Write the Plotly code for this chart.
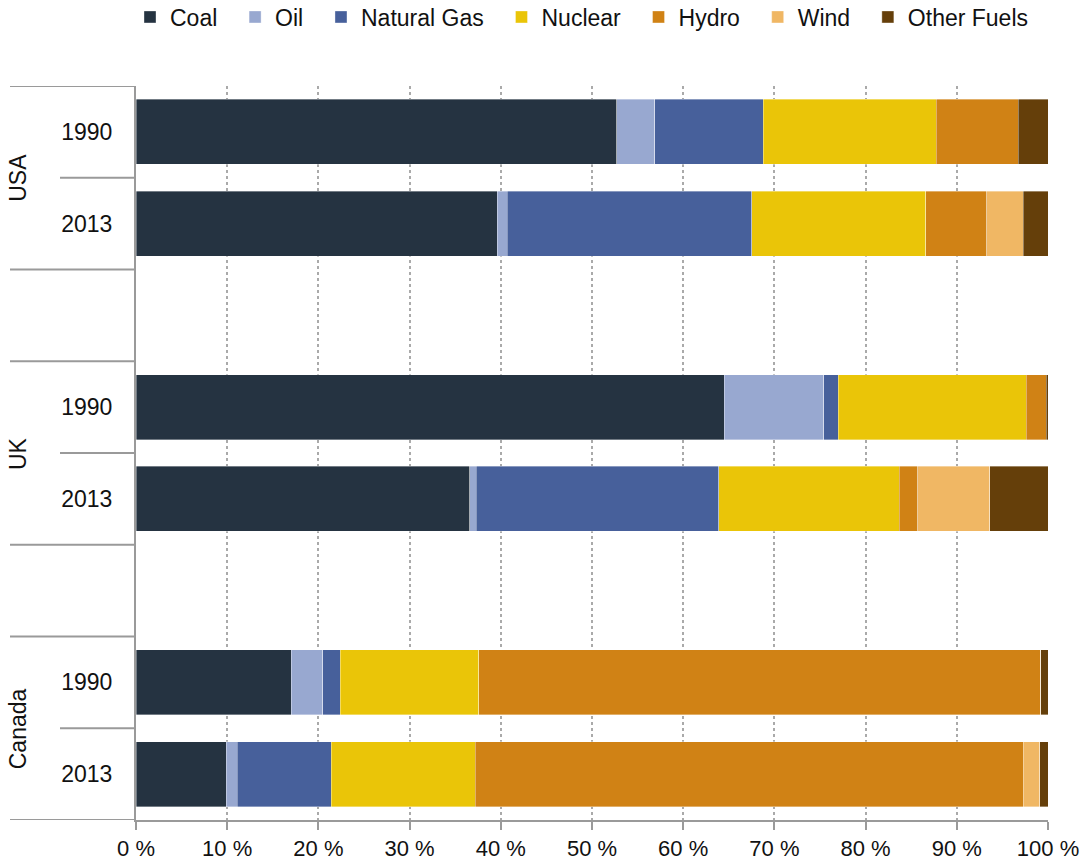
import plotly.graph_objects as go

countries = ["USA", "UK", "Canada"]
years = ["1990", "2013"]
fuels = ["Coal", "Oil", "Natural Gas", "Nuclear", "Hydro", "Wind", "Other Fuels"]
colors = ["#253341", "#98a8d0", "#47609b", "#eac508", "#d08215", "#f0b764", "#653f0a"]
x_ticks = list(range(0, 101, 10))
x_tick_labels = [f"{v} %" for v in x_ticks]

# shares in % per row: USA 1990, USA 2013, UK 1990, UK 2013, Canada 1990, Canada 2013
coal = [52.7, 39.6, 64.5, 36.6, 17.0, 9.9]
oil = [4.2, 1.1, 10.9, 0.7, 3.5, 1.2]
natural_gas = [11.85, 26.8, 1.6, 26.6, 1.9, 10.3]
nuclear = [19.0, 19.1, 20.6, 19.8, 15.2, 15.8]
hydro = [9.0, 6.7, 2.2, 2.0, 61.6, 60.1]
wind = [0.0, 4.0, 0.0, 7.9, 0.0, 1.8]
other_fuels = [3.25, 2.7, 0.2, 6.4, 0.8, 0.9]
series = [coal, oil, natural_gas, nuclear, hydro, wind, other_fuels]

# slot positions: each country takes two rows, with an empty row between countries
pos = []
for ci in range(len(countries)):
    for yi in range(len(years)):
        pos.append(ci * 3 + yi)
last_slot = max(pos)

NBSP = "\u00a0"
fig = go.Figure()
for name, col, vals in zip(fuels, colors, series):
    fig.add_trace(go.Bar(
        y=pos, x=vals, name=name + NBSP * 2, orientation="h",
        marker=dict(color=col, line=dict(color="rgba(255,255,255,0.45)", width=0.8)),
        width=0.71,
    ))

FONT = "Liberation Sans, Arial, sans-serif"
GRAY = "#9a9a9a"

shapes = []
left_long = (10 - 136) / 912
left_short = (60 - 136) / 912
for ci in range(len(countries)):
    top = ci * 3 - 0.5
    bot = ci * 3 + 1.5
    mid = ci * 3 + 0.5
    for yv, x0 in [(top, left_long), (bot, left_long), (mid, left_short)]:
        shapes.append(dict(type="line", xref="paper", yref="y", x0=x0, x1=0,
                           y0=yv, y1=yv, line=dict(color=GRAY, width=2), layer="above"))

annotations = []
for ci, c in enumerate(countries):
    annotations.append(dict(text=c, xref="paper", yref="y", x=(18 - 136) / 912,
                            y=ci * 3 + 0.5, textangle=-90, showarrow=False,
                            font=dict(family=FONT, size=23, color="#111"),
                            xanchor="center", yanchor="middle"))

fig.update_layout(
    barmode="stack",
    width=1086, height=861,
    margin=dict(l=136, r=38, t=86, b=41, autoexpand=False),
    plot_bgcolor="white", paper_bgcolor="white",
    font=dict(family=FONT, size=23, color="#111"),
    legend=dict(orientation="h", xref="paper", yref="paper",
                x=(130 - 136) / 912, xanchor="left", y=1 + (86 - 17) / 734, yanchor="middle",
                font=dict(size=23), traceorder="normal", itemwidth=30),
    xaxis=dict(range=[0, 100], tickvals=x_ticks, ticktext=x_tick_labels,
               showgrid=True, gridcolor="#aaaaaa", griddash="dot", gridwidth=1.5,
               showline=True, linecolor=GRAY, linewidth=2,
               ticks="outside", ticklen=8, tickcolor=GRAY, tickwidth=2,
               tickfont=dict(size=22), zeroline=False, fixedrange=True, automargin=False),
    yaxis=dict(range=[last_slot + 0.5, -0.5], tickvals=pos,
               ticktext=[y for _ in countries for y in years],
               showgrid=False, showline=True, linecolor=GRAY, linewidth=2,
               ticks="", ticklabelstandoff=17, zeroline=False, fixedrange=True, automargin=False),
    shapes=shapes,
    annotations=annotations,
)

fig.write_html("out.html")
